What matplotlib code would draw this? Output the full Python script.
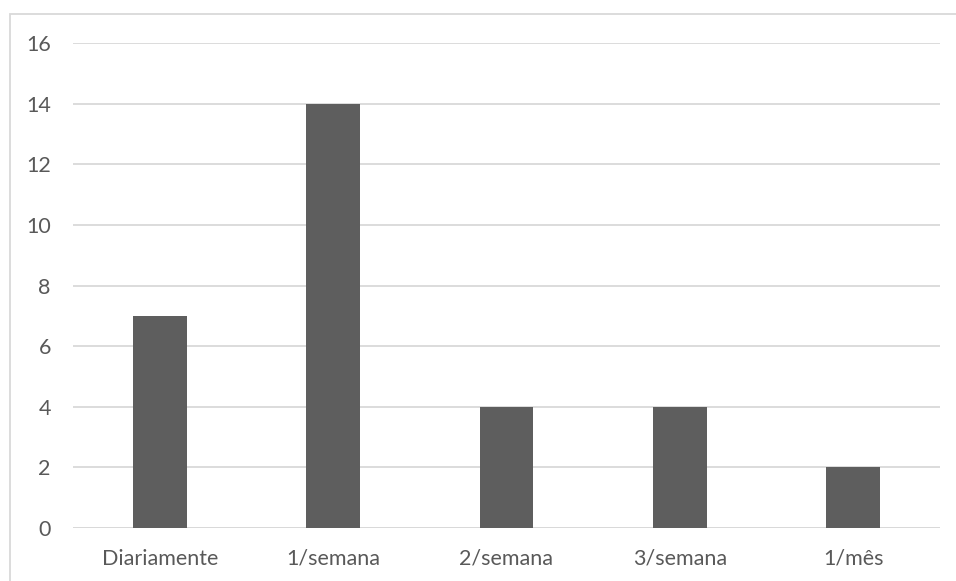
import matplotlib.pyplot as plt
from matplotlib.patches import Rectangle

# Frequency counts
categories = ["Diariamente", "1/semana", "2/semana", "3/semana", "1/mês"]
values = [7, 14, 4, 4, 2]
yticks = [0, 2, 4, 6, 8, 10, 12, 14, 16]

text_color = "#595959"
bar_color = "#5e5e5e"
grid_color = "#d9d9d9"

plt.rcParams["font.family"] = ["Lato", "DejaVu Sans"]

fig = plt.figure(figsize=(9.56, 5.81), dpi=100)
ax = fig.add_axes([73 / 956, 1 - 528 / 581, (940 - 73) / 956, (528 - 43) / 581])

x = range(len(categories))
ax.bar(x, values, width=0.31, color=bar_color, zorder=3)

ax.set_xlim(-0.5, len(categories) - 0.5)
ax.set_ylim(0, 16)
ax.set_yticks(yticks)
ax.set_xticks(list(x))
ax.set_xticklabels(categories)

ax.grid(axis="y", color=grid_color, linewidth=1.3, zorder=0)
for s in ax.spines.values():
    s.set_visible(False)
ax.axhline(0, color=grid_color, linewidth=1.3, zorder=2)
ax.tick_params(length=0, labelsize=15.5, colors=text_color)
ax.tick_params(axis="y", pad=16)
ax.tick_params(axis="x", pad=15)

# chart area border (top and left edges visible)
fig.patches.append(Rectangle((9.5 / 956, -0.1), 1.2, 1.1 - 14.5 / 581,
                             transform=fig.transFigure, fill=False,
                             edgecolor="#d9d9d9", linewidth=1.3))

fig.savefig("out.png", dpi=100, facecolor="white")
